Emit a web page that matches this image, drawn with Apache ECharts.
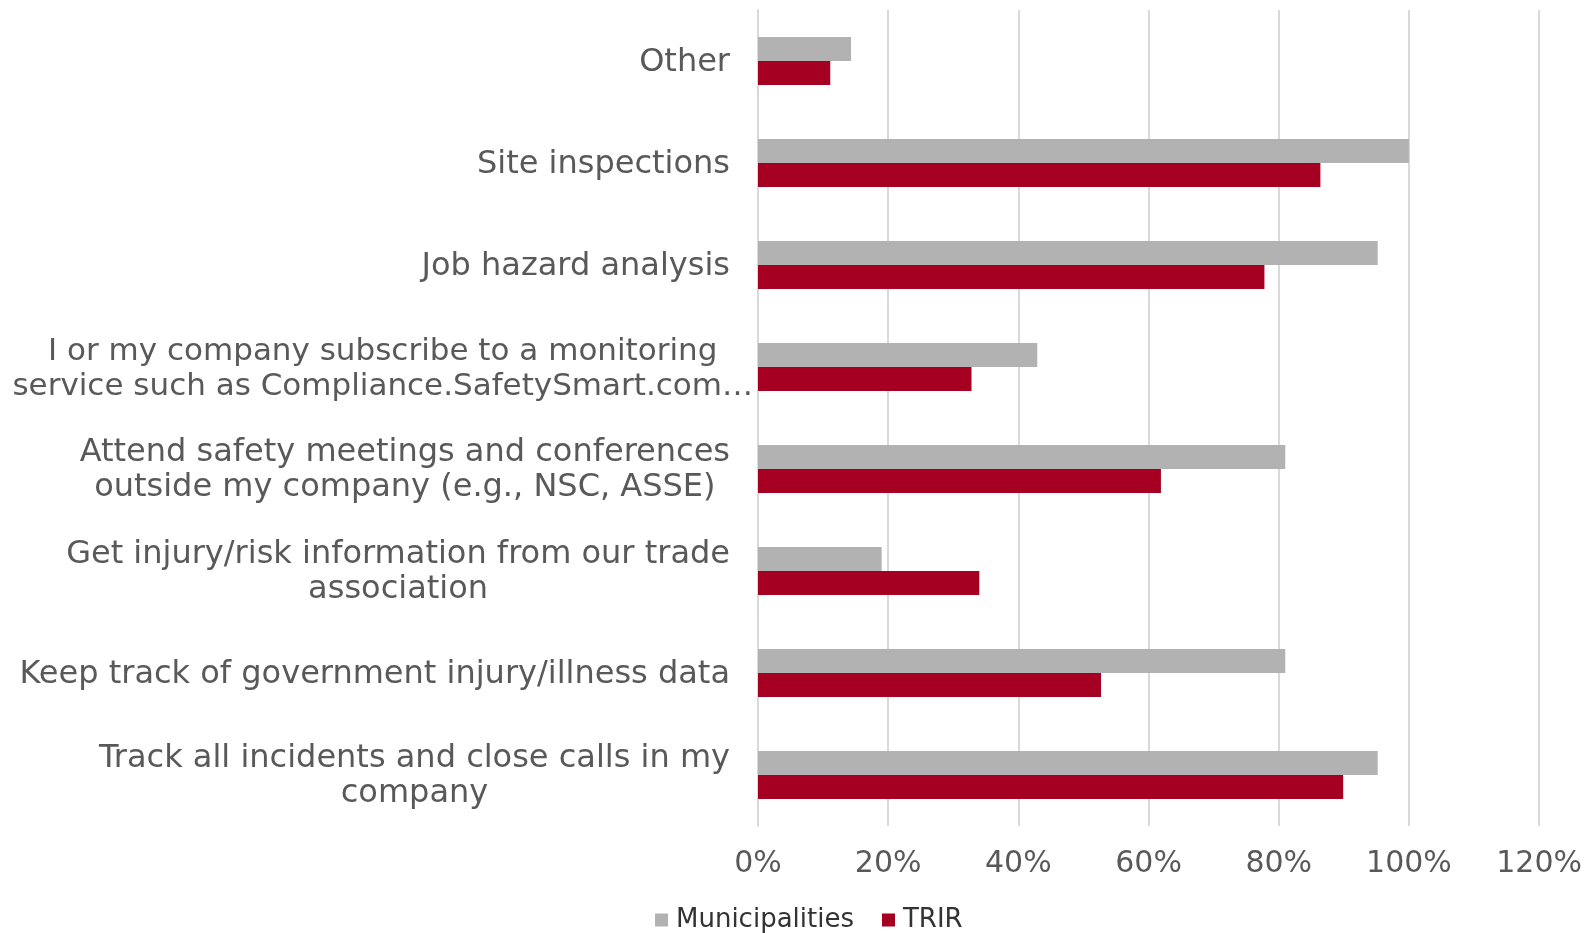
<!DOCTYPE html>
<html>
<head>
<meta charset="utf-8">
<title>chart</title>
<script src="https://cdn.jsdelivr.net/npm/echarts@6/dist/echarts.min.js"></script>
<style>
  html, body { margin: 0; padding: 0; background: #fff; }
  #main { width: 1585px; height: 933px; }
</style>
</head>
<body>
<div id="main"></div>
<script>
// categories, top to bottom
var categories = [
  'Other',
  'Site inspections',
  'Job hazard analysis',
  'I or my company subscribe to a monitoring\nservice such as Compliance.SafetySmart.com…',
  'Attend safety meetings and conferences\noutside my company (e.g., NSC, ASSE)',
  'Get injury/risk information from our trade\nassociation',
  'Keep track of government injury/illness data',
  'Track all incidents and close calls in my\ncompany'
];
var seriesNames = ['Municipalities', 'TRIR'];
var municipalities = [14.3, 100, 95.2, 42.9, 81.0, 19.0, 81.0, 95.2];
var trir = [11.1, 86.4, 77.8, 32.8, 61.9, 34.0, 52.7, 89.9];
var xTicks = [0, 20, 40, 60, 80, 100, 120];

window.onload = function() {
  var chartDom = document.getElementById('main');
  var myChart = echarts.init(chartDom);

  var font = 'DejaVu Sans';
  var labelColor = '#595959';

  var option;
  option = {
    animation: false,
    backgroundColor: '#ffffff',
    legend: {
      data: seriesNames,
      left: 655,
      top: 907,
      padding: 0,
      itemWidth: 13,
      itemHeight: 13,
      itemGap: 28,
      icon: 'rect',
      textStyle: {
        fontFamily: font,
        fontSize: 26,
        lineHeight: 26,
        color: '#333333',
        padding: [0, 0, 0, 3]
      }
    },
    grid: {
      left: 758,
      right: 42,
      top: 10,
      bottom: 107,
      containLabel: false
    },
    xAxis: {
      type: 'value',
      min: xTicks[0],
      max: xTicks[xTicks.length - 1],
      interval: 20,
      axisLine: { show: false },
      axisTick: { show: false },
      splitLine: { lineStyle: { color: '#d9d9d9', width: 2 } },
      axisLabel: {
        formatter: '{value}%',
        fontFamily: font,
        fontSize: 30,
        color: labelColor,
        margin: 23
      }
    },
    yAxis: {
      type: 'category',
      inverse: true,
      data: categories,
      axisLine: { show: true, lineStyle: { color: '#d9d9d9', width: 2 } },
      axisTick: { show: false },
      axisLabel: {
        interval: 0,
        margin: 5,
        formatter: function(value) {
          // the long label runs up to the axis, the others keep a gap
          var tag = value.indexOf('I or my') === 0 ? 'w' : 'n';
          return value.split('\n').map(function(l) {
            return '{' + tag + '|' + l + '}';
          }).join('\n');
        },
        rich: {
          n: { align: 'center', verticalAlign: 'bottom', fontFamily: font, fontSize: 32, lineHeight: 35, color: labelColor, padding: [0, 23, 0, 0] },
          w: { align: 'center', verticalAlign: 'bottom', fontFamily: font, fontSize: 31, lineHeight: 35, color: labelColor }
        }
      }
    },
    series: [{
      name: seriesNames[0],
      type: 'bar',
      data: municipalities,
      barWidth: 24,
      barGap: '0%',
      itemStyle: { color: '#b2b2b2' }
    }, {
      name: seriesNames[1],
      type: 'bar',
      data: trir,
      barWidth: 24,
      barGap: '0%',
      itemStyle: { color: '#a50021' }
    }]
  };
  option && myChart.setOption(option);
}
</script>
</body>
</html>
